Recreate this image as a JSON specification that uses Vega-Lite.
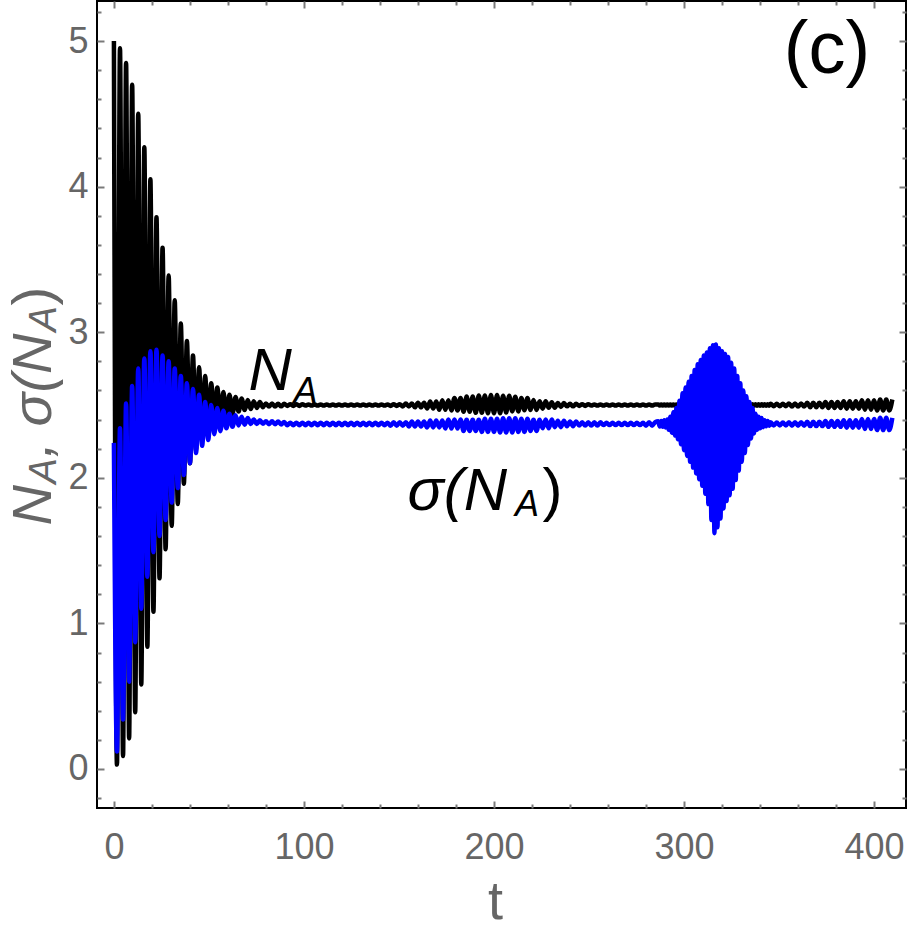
{
"$schema":"https://vega.github.io/schema/vega-lite/v6.json",
"width":809,"height":807,
"autosize":{"type":"none"},
"padding":{"left":97,"top":1,"right":5,"bottom":126},
"config":{
"view":{"stroke":"#000000","strokeWidth":2},
"axis":{"grid":false,"domain":false,"ticks":true,"tickColor":"#7a7a7a","tickWidth":2,"labelFont":"Liberation Sans","labelFontSize":36,"labelColor":"#666666","titleFont":"Liberation Sans","titleColor":"#666666","titleFontWeight":"normal","labelFlush":false,"zindex":1}
},
"datasets":{
"series":[
{"t":0,"N":5.0,"S":2.24},{"t":1.6,"N":0.03,"S":0.12},{"t":3.2,"N":4.95,"S":2.34},{"t":4.8,"N":0.09,"S":0.34},{"t":6.4,"N":4.85,"S":2.51},{"t":8,"N":0.21,"S":0.60},{"t":9.6,"N":4.70,"S":2.63},{"t":11.2,"N":0.39,"S":0.87},{"t":12.8,"N":4.50,"S":2.75},{"t":14.4,"N":0.58,"S":1.10},
{"t":16,"N":4.27,"S":2.82},{"t":17.6,"N":0.84,"S":1.32},{"t":19.2,"N":4.05,"S":2.87},{"t":20.8,"N":1.08,"S":1.49},{"t":22.4,"N":3.79,"S":2.88},{"t":24,"N":1.31,"S":1.60},{"t":25.6,"N":3.58,"S":2.84},{"t":27.2,"N":1.51,"S":1.71},{"t":28.8,"N":3.39,"S":2.80},{"t":30.4,"N":1.67,"S":1.83},
{"t":32,"N":3.22,"S":2.75},{"t":33.6,"N":1.82,"S":1.93},{"t":35.2,"N":3.06,"S":2.70},{"t":36.8,"N":1.96,"S":2.02},{"t":38.4,"N":2.94,"S":2.65},{"t":40,"N":2.10,"S":2.10},{"t":41.6,"N":2.84,"S":2.61},{"t":43.2,"N":2.19,"S":2.17},{"t":44.8,"N":2.76,"S":2.57},{"t":46.4,"N":2.27,"S":2.22},
{"t":48,"N":2.70,"S":2.52},{"t":49.6,"N":2.33,"S":2.26},{"t":51.2,"N":2.65,"S":2.50},{"t":52.8,"N":2.37,"S":2.30},{"t":54.4,"N":2.62,"S":2.48},{"t":56,"N":2.40,"S":2.32},{"t":57.6,"N":2.59,"S":2.46},{"t":59.2,"N":2.42,"S":2.34},{"t":60.8,"N":2.57,"S":2.44},{"t":62.4,"N":2.44,"S":2.35},
{"t":64,"N":2.555,"S":2.43},{"t":65.6,"N":2.455,"S":2.36},{"t":67.2,"N":2.545,"S":2.42},{"t":68.8,"N":2.465,"S":2.365},{"t":70.4,"N":2.535,"S":2.41},{"t":72,"N":2.472,"S":2.37},{"t":73.6,"N":2.525,"S":2.40},{"t":75.2,"N":2.48,"S":2.37},{"t":76.8,"N":2.52,"S":2.395},{"t":78.4,"N":2.485,"S":2.372},
{"t":80,"N":2.511,"S":2.388},{"t":81.6,"N":2.489,"S":2.368},{"t":83.2,"N":2.511,"S":2.388},{"t":84.8,"N":2.489,"S":2.368},{"t":86.4,"N":2.509,"S":2.386},{"t":88,"N":2.491,"S":2.366},{"t":89.6,"N":2.509,"S":2.384},{"t":91.2,"N":2.494,"S":2.361},{"t":92.8,"N":2.506,"S":2.379},{"t":94.4,"N":2.494,"S":2.361},
{"t":96,"N":2.506,"S":2.379},{"t":97.6,"N":2.494,"S":2.361},{"t":99.2,"N":2.506,"S":2.379},{"t":100.8,"N":2.496,"S":2.361},{"t":102.4,"N":2.504,"S":2.379},{"t":104,"N":2.496,"S":2.361},{"t":105.6,"N":2.504,"S":2.379},{"t":107.2,"N":2.496,"S":2.361},{"t":108.8,"N":2.504,"S":2.379},{"t":110.4,"N":2.496,"S":2.361},
{"t":112,"N":2.504,"S":2.379},{"t":113.6,"N":2.496,"S":2.361},{"t":115.2,"N":2.504,"S":2.379},{"t":116.8,"N":2.496,"S":2.361},{"t":118.4,"N":2.504,"S":2.379},{"t":120,"N":2.496,"S":2.361},{"t":121.6,"N":2.504,"S":2.379},{"t":123.2,"N":2.496,"S":2.361},{"t":124.8,"N":2.504,"S":2.379},{"t":126.4,"N":2.496,"S":2.361},
{"t":128,"N":2.504,"S":2.379},{"t":129.6,"N":2.496,"S":2.361},{"t":131.2,"N":2.504,"S":2.379},{"t":132.8,"N":2.496,"S":2.361},{"t":134.4,"N":2.504,"S":2.379},{"t":136,"N":2.496,"S":2.361},{"t":137.6,"N":2.504,"S":2.379},{"t":139.2,"N":2.496,"S":2.361},{"t":140.8,"N":2.504,"S":2.379},{"t":142.4,"N":2.496,"S":2.361},
{"t":144,"N":2.504,"S":2.379},{"t":145.6,"N":2.494,"S":2.358},{"t":147.2,"N":2.506,"S":2.382},{"t":148.8,"N":2.494,"S":2.358},{"t":150.4,"N":2.506,"S":2.382},{"t":152,"N":2.49,"S":2.358},{"t":153.6,"N":2.51,"S":2.382},{"t":155.2,"N":2.49,"S":2.353},{"t":156.8,"N":2.51,"S":2.387},{"t":158.4,"N":2.484,"S":2.353},
{"t":160,"N":2.516,"S":2.387},{"t":161.6,"N":2.484,"S":2.353},{"t":163.2,"N":2.516,"S":2.387},{"t":164.8,"N":2.476,"S":2.346},{"t":166.4,"N":2.524,"S":2.394},{"t":168,"N":2.476,"S":2.346},{"t":169.6,"N":2.524,"S":2.394},{"t":171.2,"N":2.467,"S":2.346},{"t":172.8,"N":2.533,"S":2.394},{"t":174.4,"N":2.467,"S":2.339},
{"t":176,"N":2.533,"S":2.401},{"t":177.6,"N":2.463,"S":2.339},{"t":179.2,"N":2.549,"S":2.401},{"t":180.8,"N":2.463,"S":2.339},{"t":182.4,"N":2.549,"S":2.401},{"t":184,"N":2.454,"S":2.322},{"t":185.6,"N":2.558,"S":2.398},{"t":187.2,"N":2.454,"S":2.322},{"t":188.8,"N":2.558,"S":2.398},{"t":190.4,"N":2.446,"S":2.322},
{"t":192,"N":2.566,"S":2.398},{"t":193.6,"N":2.446,"S":2.315},{"t":195.2,"N":2.566,"S":2.405},{"t":196.8,"N":2.443,"S":2.315},{"t":198.4,"N":2.569,"S":2.405},{"t":200,"N":2.443,"S":2.315},{"t":201.6,"N":2.569,"S":2.405},{"t":203.2,"N":2.443,"S":2.311},{"t":204.8,"N":2.564,"S":2.409},{"t":206.4,"N":2.448,"S":2.311},
{"t":208,"N":2.564,"S":2.409},{"t":209.6,"N":2.456,"S":2.311},{"t":211.2,"N":2.556,"S":2.409},{"t":212.8,"N":2.456,"S":2.315},{"t":214.4,"N":2.548,"S":2.405},{"t":216,"N":2.464,"S":2.315},{"t":217.6,"N":2.548,"S":2.405},{"t":219.2,"N":2.466,"S":2.322},{"t":220.8,"N":2.534,"S":2.398},{"t":222.4,"N":2.466,"S":2.322},
{"t":224,"N":2.526,"S":2.398},{"t":225.6,"N":2.474,"S":2.34},{"t":227.2,"N":2.526,"S":2.40},{"t":228.8,"N":2.481,"S":2.34},{"t":230.4,"N":2.519,"S":2.40},{"t":232,"N":2.481,"S":2.348},{"t":233.6,"N":2.513,"S":2.392},{"t":235.2,"N":2.487,"S":2.348},{"t":236.8,"N":2.513,"S":2.392},{"t":238.4,"N":2.491,"S":2.354},
{"t":240,"N":2.509,"S":2.386},{"t":241.6,"N":2.491,"S":2.354},{"t":243.2,"N":2.509,"S":2.386},{"t":244.8,"N":2.494,"S":2.359},{"t":246.4,"N":2.506,"S":2.381},{"t":248,"N":2.494,"S":2.359},{"t":249.6,"N":2.506,"S":2.381},{"t":251.2,"N":2.496,"S":2.359},{"t":252.8,"N":2.504,"S":2.381},{"t":254.4,"N":2.496,"S":2.359},
{"t":256,"N":2.504,"S":2.381},{"t":257.6,"N":2.496,"S":2.362},{"t":259.2,"N":2.504,"S":2.378},{"t":260.8,"N":2.496,"S":2.362},{"t":262.4,"N":2.504,"S":2.378},{"t":264,"N":2.496,"S":2.362},{"t":265.6,"N":2.504,"S":2.378},{"t":267.2,"N":2.496,"S":2.362},{"t":268.8,"N":2.504,"S":2.378},{"t":270.4,"N":2.496,"S":2.362},
{"t":272,"N":2.504,"S":2.378},{"t":273.6,"N":2.496,"S":2.362},{"t":275.2,"N":2.504,"S":2.378},{"t":276.8,"N":2.496,"S":2.362},{"t":278.4,"N":2.504,"S":2.378},{"t":280,"N":2.496,"S":2.358},{"t":281.6,"N":2.504,"S":2.382},{"t":283.2,"N":2.496,"S":2.358},{"t":284.8,"N":2.504,"S":2.382},
{"t":286.4,"N":2.504,"S":2.388},{"t":287.2,"N":2.496,"S":2.352},{"t":288,"N":2.504,"S":2.39},{"t":288.8,"N":2.496,"S":2.35},{"t":289.6,"N":2.504,"S":2.395},{"t":290.4,"N":2.496,"S":2.345},{"t":291.2,"N":2.504,"S":2.40},{"t":292,"N":2.496,"S":2.33},{"t":292.8,"N":2.504,"S":2.42},{"t":293.6,"N":2.496,"S":2.31},
{"t":294.4,"N":2.504,"S":2.45},{"t":295.2,"N":2.496,"S":2.29},{"t":296,"N":2.504,"S":2.48},{"t":296.8,"N":2.496,"S":2.265},{"t":297.6,"N":2.504,"S":2.53},{"t":298.4,"N":2.496,"S":2.23},{"t":299.2,"N":2.504,"S":2.58},{"t":300,"N":2.496,"S":2.19},{"t":300.8,"N":2.504,"S":2.62},{"t":301.6,"N":2.496,"S":2.15},
{"t":302.4,"N":2.504,"S":2.66},{"t":303.2,"N":2.496,"S":2.11},{"t":304,"N":2.504,"S":2.70},{"t":304.8,"N":2.496,"S":2.07},{"t":305.6,"N":2.504,"S":2.74},{"t":306.4,"N":2.496,"S":2.03},{"t":307.2,"N":2.504,"S":2.78},{"t":308,"N":2.496,"S":1.99},{"t":308.8,"N":2.504,"S":2.81},{"t":309.6,"N":2.496,"S":1.945},
{"t":310.4,"N":2.504,"S":2.84},{"t":311.2,"N":2.496,"S":1.89},{"t":312,"N":2.504,"S":2.86},{"t":312.8,"N":2.496,"S":1.82},{"t":313.6,"N":2.504,"S":2.89},{"t":314.4,"N":2.496,"S":1.71},{"t":315.2,"N":2.504,"S":2.91},{"t":316,"N":2.496,"S":1.62},{"t":316.8,"N":2.504,"S":2.915},{"t":317.6,"N":2.496,"S":1.66},
{"t":318.4,"N":2.504,"S":2.89},{"t":319.2,"N":2.496,"S":1.72},{"t":320,"N":2.504,"S":2.87},{"t":320.8,"N":2.496,"S":1.79},{"t":321.6,"N":2.504,"S":2.85},{"t":322.4,"N":2.496,"S":1.84},{"t":323.2,"N":2.504,"S":2.83},{"t":324,"N":2.496,"S":1.88},{"t":324.8,"N":2.504,"S":2.79},{"t":325.6,"N":2.496,"S":1.925},
{"t":326.4,"N":2.504,"S":2.75},{"t":327.2,"N":2.496,"S":1.985},{"t":328,"N":2.504,"S":2.70},{"t":328.8,"N":2.496,"S":2.05},{"t":329.6,"N":2.504,"S":2.65},{"t":330.4,"N":2.496,"S":2.11},{"t":331.2,"N":2.504,"S":2.60},{"t":332,"N":2.496,"S":2.17},{"t":332.8,"N":2.504,"S":2.56},{"t":333.6,"N":2.496,"S":2.225},
{"t":334.4,"N":2.504,"S":2.52},{"t":335.2,"N":2.496,"S":2.27},{"t":336,"N":2.505,"S":2.48},{"t":336.8,"N":2.495,"S":2.305},{"t":337.6,"N":2.505,"S":2.44},{"t":338.4,"N":2.495,"S":2.33},{"t":339.2,"N":2.505,"S":2.42},{"t":340,"N":2.495,"S":2.34},{"t":340.8,"N":2.505,"S":2.41},{"t":341.6,"N":2.495,"S":2.348},
{"t":342.4,"N":2.505,"S":2.395},{"t":343.2,"N":2.495,"S":2.354},{"t":344,"N":2.505,"S":2.39},{"t":344.8,"N":2.495,"S":2.358},{"t":345.6,"N":2.508,"S":2.382},
{"t":347.2,"N":2.492,"S":2.36},{"t":348.8,"N":2.508,"S":2.38},{"t":350.4,"N":2.492,"S":2.36},
{"t":352,"N":2.508,"S":2.38},{"t":353.6,"N":2.492,"S":2.36},{"t":355.2,"N":2.511,"S":2.382},{"t":356.8,"N":2.489,"S":2.358},{"t":358.4,"N":2.511,"S":2.382},{"t":360,"N":2.489,"S":2.358},{"t":361.6,"N":2.511,"S":2.382},{"t":363.2,"N":2.489,"S":2.358},{"t":364.8,"N":2.515,"S":2.385},{"t":366.4,"N":2.485,"S":2.355},
{"t":368,"N":2.515,"S":2.385},{"t":369.6,"N":2.485,"S":2.355},{"t":371.2,"N":2.515,"S":2.385},{"t":372.8,"N":2.485,"S":2.355},{"t":374.4,"N":2.52,"S":2.39},{"t":376,"N":2.48,"S":2.35},{"t":377.6,"N":2.52,"S":2.39},{"t":379.2,"N":2.48,"S":2.35},{"t":380.8,"N":2.52,"S":2.39},{"t":382.4,"N":2.48,"S":2.35},
{"t":384,"N":2.526,"S":2.396},{"t":385.6,"N":2.474,"S":2.344},{"t":387.2,"N":2.526,"S":2.396},{"t":388.8,"N":2.474,"S":2.344},{"t":390.4,"N":2.526,"S":2.396},{"t":392,"N":2.474,"S":2.344},{"t":393.6,"N":2.532,"S":2.404},{"t":395.2,"N":2.468,"S":2.336},{"t":396.8,"N":2.532,"S":2.404},{"t":398.4,"N":2.468,"S":2.336},
{"t":400,"N":2.532,"S":2.404},{"t":401.6,"N":2.462,"S":2.328},{"t":403.2,"N":2.538,"S":2.412},{"t":404.8,"N":2.462,"S":2.328},{"t":406.4,"N":2.538,"S":2.412},{"t":408,"N":2.462,"S":2.328},{"t":409.6,"N":2.538,"S":2.412}
],
"bigItalic":[{"t":70.8,"v":2.603,"label":"N"},{"t":154.5,"v":1.78,"label":"σ(N"}],
"smallItalic":[{"t":94.5,"v":2.514,"label":"A"},{"t":211,"v":1.735,"label":"A"}],
"bigUpright":[{"t":225.5,"v":1.78,"label":")"}],
"panel":[{"t":352.5,"v":4.78,"label":"(c)"}]
},
"layer":[
{"data":{"name":"series"},
"mark":{"type":"line","color":"#000000","strokeWidth":4.5,"interpolate":"monotone"},
"encoding":{
"x":{"field":"t","type":"quantitative","scale":{"domain":[-8.9,416.8],"nice":false,"zero":false},
"axis":{"orient":"bottom","offset":-7,"values":[0,100,200,300,400],"tickSize":7,"labelPadding":22,"title":"t","titleFontSize":54,"titleX":398,"titleY":117,"titleAlign":"center","titleBaseline":"alphabetic","titleAngle":0}},
"y":{"field":"N","type":"quantitative","scale":{"domain":[-0.268,5.275],"nice":false,"zero":false},
"axis":{"orient":"left","offset":-7,"values":[0,1,2,3,4,5],"tickSize":7,"labelPadding":9,"title":"N","titleFontSize":56,"titleFontStyle":"italic","titleAngle":270,"titleX":-54,"titleY":524,"titleAlign":"left","titleBaseline":"alphabetic"}}
}},
{"data":{"name":"series"},
"mark":{"type":"line","color":"#0000ff","strokeWidth":4.5,"interpolate":"monotone"},
"encoding":{
"x":{"field":"t","type":"quantitative",
"axis":{"orient":"top","offset":-7,"values":[0,100,200,300,400],"tickSize":7,"labels":false,"title":")","titleFontSize":56,"titleAngle":270,"titleX":-47,"titleY":297,"titleAlign":"left","titleBaseline":"alphabetic"}},
"y":{"field":"S","type":"quantitative",
"axis":{"orient":"right","offset":-7,"values":[0,1,2,3,4,5],"tickSize":7,"labels":false,"title":", σ(N","titleFontSize":56,"titleFontStyle":"italic","titleAngle":270,"titleX":-849,"titleY":456,"titleAlign":"left","titleBaseline":"alphabetic"}}
}},
{"data":{"name":"bigItalic"},
"mark":{"type":"text","font":"Liberation Sans","fontSize":60,"fontStyle":"italic","align":"left","baseline":"alphabetic","color":"#000000"},
"encoding":{
"x":{"field":"t","type":"quantitative",
"axis":{"orient":"bottom","offset":-4,"values":[20,40,60,80,120,140,160,180,220,240,260,280,320,340,360,380],"tickSize":4,"labels":false,"title":null}},
"y":{"field":"v","type":"quantitative",
"axis":{"orient":"left","offset":-4,"values":[-0.2,0.2,0.4,0.6,0.8,1.2,1.4,1.6,1.8,2.2,2.4,2.6,2.8,3.2,3.4,3.6,3.8,4.2,4.4,4.6,4.8,5.2],"tickSize":4,"labels":false,"title":"A","titleFontSize":38,"titleFontStyle":"italic","titleAngle":270,"titleX":-46,"titleY":482,"titleAlign":"left","titleBaseline":"alphabetic"}},
"text":{"field":"label"}
}},
{"data":{"name":"smallItalic"},
"mark":{"type":"text","font":"Liberation Sans","fontSize":36,"fontStyle":"italic","align":"left","baseline":"alphabetic","color":"#000000"},
"encoding":{
"x":{"field":"t","type":"quantitative",
"axis":{"orient":"top","offset":-4,"values":[20,40,60,80,120,140,160,180,220,240,260,280,320,340,360,380],"tickSize":4,"labels":false,"title":null}},
"y":{"field":"v","type":"quantitative",
"axis":{"orient":"right","offset":-4,"values":[-0.2,0.2,0.4,0.6,0.8,1.2,1.4,1.6,1.8,2.2,2.4,2.6,2.8,3.2,3.4,3.6,3.8,4.2,4.4,4.6,4.8,5.2],"tickSize":4,"labels":false,"title":"A","titleFontSize":38,"titleFontStyle":"italic","titleAngle":270,"titleX":-847,"titleY":330,"titleAlign":"left","titleBaseline":"alphabetic"}},
"text":{"field":"label"}
}},
{"data":{"name":"bigUpright"},
"mark":{"type":"text","font":"Liberation Sans","fontSize":60,"align":"left","baseline":"alphabetic","color":"#000000"},
"encoding":{
"x":{"field":"t","type":"quantitative","axis":null},
"y":{"field":"v","type":"quantitative","axis":null},
"text":{"field":"label"}
}},
{"data":{"name":"panel"},
"mark":{"type":"text","font":"Liberation Sans","fontSize":74,"align":"left","baseline":"alphabetic","color":"#000000"},
"encoding":{
"x":{"field":"t","type":"quantitative","axis":null},
"y":{"field":"v","type":"quantitative","axis":null},
"text":{"field":"label"}
}}
],
"resolve":{"axis":{"x":"independent","y":"independent"}}
}
